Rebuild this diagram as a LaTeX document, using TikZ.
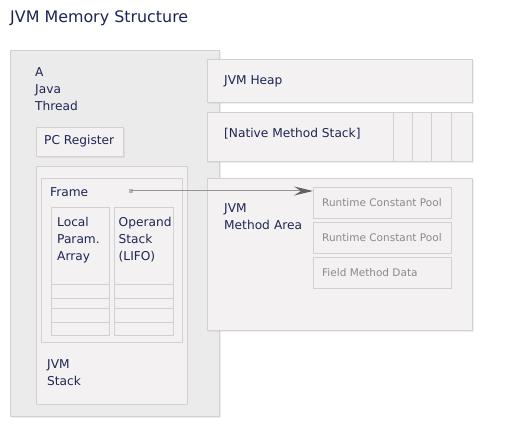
\documentclass[tikz,border=0pt]{standalone}
\usepackage{fontspec}
\setmainfont{DejaVu Sans}
\usetikzlibrary{shadows,arrows.meta}
\definecolor{navy}{HTML}{1E2554}
\definecolor{bgouter}{HTML}{EBEBEB}
\definecolor{bginner}{HTML}{F3F1F1}
\definecolor{edge}{HTML}{D2D0D0}
\definecolor{grtxt}{HTML}{8A8A8A}
\tikzset{
  outerbox/.style={draw=edge, fill=bgouter, line width=0.8pt, anchor=north west, inner sep=0pt,
    drop shadow={opacity=0.12, shadow xshift=1.5pt, shadow yshift=-1.5pt}},
  innerbox/.style={draw=edge, fill=bginner, line width=0.8pt, anchor=north west, inner sep=0pt},
  panel/.style={innerbox, drop shadow={opacity=0.12, shadow xshift=1.5pt, shadow yshift=-1.5pt}},
  lbl/.style={text=navy, font=\fontsize{12.2}{17}\selectfont, align=left, anchor=west, inner sep=0pt},
  poolbox/.style={draw=edge, fill=bginner, line width=0.8pt, anchor=north west, inner sep=0pt,
    minimum width=138pt, minimum height=31pt},
  pooltxt/.style={text=grtxt, font=\fontsize{10.5}{12}\selectfont, anchor=west, inner sep=0pt},
  cell/.style={draw=edge, line width=0.6pt},
}
\begin{document}
\begin{tikzpicture}[x=1pt,y=-1pt]
\useasboundingbox[fill=white] (0,0) rectangle (516,427);
% title
\node[text=navy, font=\fontsize{15.9}{17}\selectfont, anchor=west, inner sep=0pt] (title) at (10,18.5) {JVM Memory Structure};
% thread
\node[outerbox, minimum width=209pt, minimum height=366pt] (thread) at (10,50) {};
\node[lbl] (threadlbl) at (35,89.5) {A\\Java\\Thread};
\node[panel, minimum width=87pt, minimum height=29pt] (pc) at (36,127) {};
\node[lbl] (pclbl) at (44,141.5) {PC Register};
\node[innerbox, minimum width=151pt, minimum height=238pt] (stack) at (36,166) {};
\node[innerbox, minimum width=141pt, minimum height=164pt] (frame) at (41,178) {};
\node[lbl] (framelbl) at (50,192) {Frame};
\node[innerbox, minimum width=58pt, minimum height=128pt] (local) at (51,207) {};
\node[innerbox, minimum width=59pt, minimum height=128pt] (operand) at (114,207) {};
\foreach \yy in {284,298,308,322}{
  \draw[cell] (local.west |- 0,\yy) -- (local.east |- 0,\yy);
  \draw[cell] (operand.west |- 0,\yy) -- (operand.east |- 0,\yy);
}
\node[lbl] (locallbl) at (57,240) {Local\\Param.\\Array};
\node[lbl] (operandlbl) at (118.5,240) {Operand\\Stack\\(LIFO)};
\node[lbl] (stacklbl) at (47,372.5) {JVM\\Stack};
% heap
\node[panel, minimum width=265pt, minimum height=43pt] (heap) at (207,59) {};
\node[lbl] (heaplbl) at (224,81) {JVM Heap};
% native
\node[panel, minimum width=265pt, minimum height=49pt] (native) at (207,112) {};
\foreach \xx in {393,412,431,451}{
  \draw[cell] (\xx,0 |- native.north) -- (\xx,0 |- native.south);
}
\node[lbl] (nativelbl) at (224,134) {[Native Method Stack]};
% method area
\node[panel, minimum width=265pt, minimum height=152pt] (method) at (207,178) {};
\node[lbl, text width=90pt] (methodlbl) at (224,217) {\fontsize{12.2}{16}\selectfont JVM\\Method Area};
\node[poolbox] (rcp1) at (313,187) {};
\node[pooltxt] (rcp1lbl) at (322,203) {Runtime Constant Pool};
\node[poolbox] (rcp2) at (313,222) {};
\node[pooltxt] (rcp2lbl) at (322,237.5) {Runtime Constant Pool};
\node[poolbox] (fmd) at (313,257) {};
\node[pooltxt] (fmdlbl) at (322,272.5) {Field Method Data};
% arrow
\node[fill=black!30, minimum size=4.5pt, inner sep=0pt] (src) at (131,191) {};
\draw[black!42, line width=1pt, -{Stealth[length=19pt, width=9pt, inset=7pt, color=black!62, fill=black!62]}] (src.center) -- (src.center -| rcp1.west);
\end{tikzpicture}
\end{document}
